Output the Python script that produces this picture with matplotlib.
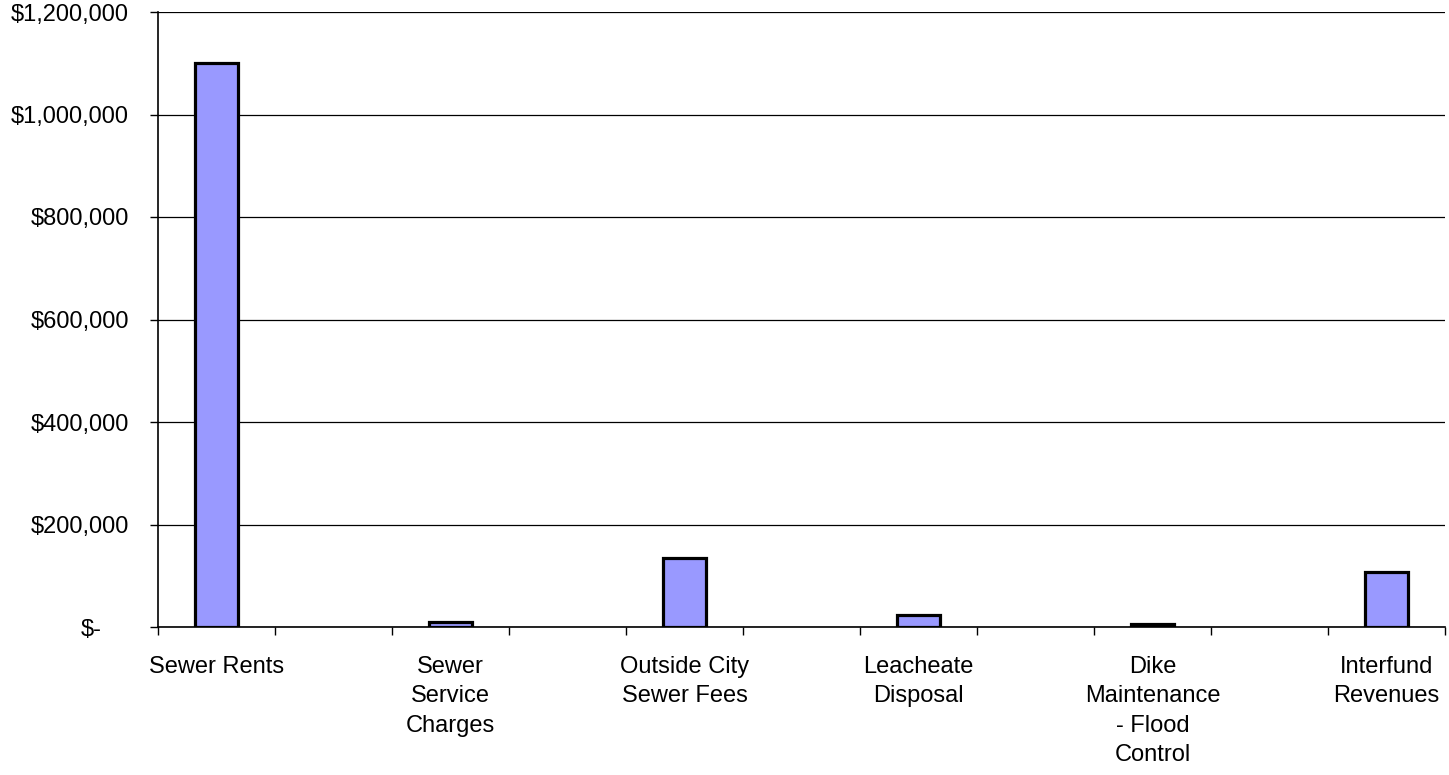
import numpy as np
import matplotlib.pyplot as plt
from matplotlib.ticker import FuncFormatter
from matplotlib.transforms import ScaledTranslation

plt.rcParams['font.family'] = ['Liberation Sans', 'DejaVu Sans']

# Revenue sources (every other slot on the category axis is blank)
categories = ['Sewer Rents', '', 'Sewer\nService\nCharges', '', 'Outside City\nSewer Fees', '',
              'Leacheate\nDisposal', '', 'Dike\nMaintenance\n- Flood\nControl', '', 'Interfund\nRevenues']
revenues = [1100000, None, 9000, None, 135000, None, 22500, None, 5000, None, 108000]
yticks = [0, 200000, 400000, 600000, 800000, 1000000, 1200000]

fig = plt.figure(figsize=(14.49, 7.75), dpi=100)
ax = fig.add_axes([158 / 1449, 148 / 775, 1287 / 1449, 615 / 775])

x = np.arange(len(categories))
bx = [i for i, v in zip(x, revenues) if v is not None]
bv = [v for v in revenues if v is not None]
ax.bar(bx, bv, width=0.365, color='#9999FF', edgecolor='black', linewidth=2.3, zorder=3)

ax.set_xlim(-0.5, len(categories) - 0.5)
ax.set_ylim(0, 1200000)
ax.set_yticks(yticks)
ax.yaxis.set_major_formatter(FuncFormatter(lambda v, p: '$-' if v == 0 else f'${v:,.0f}'))
ax.set_xticks(x)
ax.set_xticklabels(categories, fontsize=17, linespacing=1.43, va='top')
ax.set_xticks(np.arange(-0.5, len(categories)), minor=True)
ax.tick_params(axis='x', which='major', length=0, pad=21)
ax.tick_params(axis='x', which='minor', length=6, width=1, direction='out')
ax.tick_params(axis='y', length=6, width=1, direction='out', labelsize=17, pad=15)

ax.grid(axis='y', color='black', linewidth=0.9, zorder=0)
ax.set_axisbelow(True)
for s in ['top', 'right']:
    ax.spines[s].set_visible(False)
ax.spines['left'].set_linewidth(1.2)
ax.spines['bottom'].set_linewidth(1.2)

# accounting-style zero label sits further left
zero_lab = ax.get_yticklabels()[0]
zero_lab.set_transform(zero_lab.get_transform() + ScaledTranslation(-0.27, 0, fig.dpi_scale_trans))

fig.savefig('out.png', dpi=100)
